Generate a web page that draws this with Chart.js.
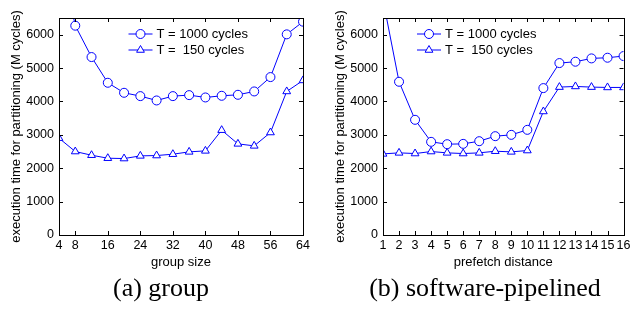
<!DOCTYPE html>
<html>
<head>
<meta charset="utf-8">
<script src="https://cdn.jsdelivr.net/npm/chart.js@4.4.1/dist/chart.umd.min.js"></script>
<style>
    body { margin: 0; background: #fff; width: 634px; height: 309px; position: relative; overflow: hidden; }
    canvas { position: absolute; top: 0; }
    .cap { position: absolute; top: 275px; width: 300px; text-align: center;
           font: 26px "Liberation Serif", serif; line-height: 1; color: #000; }
</style>
</head>
<body>
<canvas id="group-chart" width="317" height="275" style="left:0"></canvas>
<canvas id="pipe-chart" width="317" height="275" style="left:317px"></canvas>
<div class="cap" style="left:11px">(a) group</div>
<div class="cap" style="left:335px">(b) software-pipelined</div>
<script>
// (a) group size
const groupSizes = [4, 8, 12, 16, 20, 24, 28, 32, 36, 40, 44, 48, 52, 56, 60, 64];
const groupSlow = [8600, 6270, 5330, 4560, 4260, 4160, 4030, 4160, 4190, 4120, 4170, 4200, 4300, 4730, 6010, 6390];
const groupFast = [2900, 2500, 2390, 2300, 2290, 2370, 2380, 2420, 2490, 2520, 3140, 2730, 2670, 3070, 4300, 4630];
const groupTicks = [4, 8, 16, 24, 32, 40, 48, 56, 64];

// (b) prefetch distance
const prefetchDist = [1, 2, 3, 4, 5, 6, 7, 8, 9, 10, 11, 12, 13, 14, 15, 16];
const pipeSlow = [7050, 4590, 3450, 2790, 2720, 2730, 2810, 2960, 3000, 3150, 4400, 5150, 5190, 5290, 5310, 5360];
const pipeFast = [2430, 2460, 2440, 2500, 2460, 2440, 2460, 2510, 2490, 2530, 3700, 4430, 4450, 4430, 4420, 4420];
const pipeTicks = prefetchDist;

const yTicks = [0, 1000, 2000, 3000, 4000, 5000, 6000];
const seriesNames = ['T = 1000 cycles', 'T =  150 cycles'];
const blue = '#0000ff';

Chart.defaults.font.family = '"Liberation Sans", Arial, sans-serif';
Chart.defaults.color = '#000';

// box round the plot with matlab-style inward ticks
const framePlugin = {
    id: 'frame',
    afterDatasetsDraw(chart) {
        const { ctx, chartArea: a, scales } = chart;
        const len = 4;
        ctx.save();
        ctx.strokeStyle = '#000';
        ctx.lineWidth = 1;
        ctx.beginPath();
        for (const t of scales.x.ticks) {
            const px = Math.round(scales.x.getPixelForValue(t.value)) + 0.5;
            ctx.moveTo(px, a.bottom); ctx.lineTo(px, a.bottom - len);
            ctx.moveTo(px, a.top); ctx.lineTo(px, a.top + len);
        }
        for (const t of scales.y.ticks) {
            const py = Math.round(scales.y.getPixelForValue(t.value)) + 0.5;
            ctx.moveTo(a.left, py); ctx.lineTo(a.left + len, py);
            ctx.moveTo(a.right, py); ctx.lineTo(a.right - len, py);
        }
        ctx.stroke();
        ctx.strokeRect(Math.round(a.left) + 0.5, Math.round(a.top) + 0.5,
            Math.round(a.right - a.left), Math.round(a.bottom - a.top));
        ctx.restore();
    }
};

// legend inside the plot: line sample + marker + text
const keyPlugin = {
    id: 'lineKey',
    afterDraw(chart, args, opts) {
        const { ctx, chartArea: a } = chart;
        ctx.save();
        chart.data.datasets.forEach((ds, i) => {
            const x0 = a.left + opts.x;
            const y = a.top + opts.y + i * 16;
            ctx.strokeStyle = blue;
            ctx.lineWidth = 1;
            ctx.beginPath();
            ctx.moveTo(x0, y + 0.5);
            ctx.lineTo(x0 + 24, y + 0.5);
            ctx.stroke();
            ctx.fillStyle = '#fff';
            Chart.helpers.drawPoint(ctx, {
                pointStyle: ds.pointStyle, radius: 4.5, borderWidth: 1, rotation: 0
            }, x0 + 12, y + 0.5);
            ctx.fillStyle = '#000';
            ctx.font = '13px "Liberation Sans", Arial, sans-serif';
            ctx.textBaseline = 'middle';
            ctx.fillText(ds.label, x0 + 28, y + 1);
        });
        ctx.restore();
    }
};

function series(xs, ys, label, style) {
    return {
        label: label,
        data: xs.map((x, i) => ({ x: x, y: ys[i] })),
        borderColor: blue,
        borderWidth: 1,
        pointStyle: style,
        pointRadius: 4.5,
        pointBorderWidth: 1,
        pointBorderColor: blue,
        pointBackgroundColor: '#fff',
        tension: 0
    };
}

function makeChart(id, xs, slow, fast, xTicks, xTitle, cfg) {
    return new Chart(document.getElementById(id), {
        type: 'line',
        data: {
            datasets: [
                series(xs, slow, seriesNames[0], 'circle'),
                series(xs, fast, seriesNames[1], 'triangle')
            ]
        },
        options: {
            responsive: false,
            animation: false,
            layout: { padding: { left: 0, right: cfg.right, top: 18, bottom: 0 } },
            plugins: {
                legend: { display: false },
                tooltip: { enabled: false },
                lineKey: { x: cfg.keyX, y: 15.5 }
            },
            scales: {
                x: {
                    type: 'linear',
                    min: xs[0],
                    max: xs[xs.length - 1],
                    afterBuildTicks: (s) => { s.ticks = xTicks.map(v => ({ value: v })); },
                    afterFit: (s) => { s.height = 40; },
                    grid: { display: false, drawTicks: false },
                    border: { display: false },
                    ticks: { autoSkip: false, maxRotation: 0, padding: 3.5, font: { size: 12.5 },
                             callback: (v) => String(v) },
                    title: { display: true, text: xTitle, font: { size: 13 }, padding: { top: 0, bottom: 4.5 } }
                },
                y: {
                    min: 0,
                    max: 6500,
                    afterBuildTicks: (s) => { s.ticks = yTicks.map(v => ({ value: v })); },
                    afterFit: (s) => { s.width = cfg.left; },
                    grid: { display: false, drawTicks: false },
                    border: { display: false },
                    ticks: { padding: 5, font: { size: 12.5 }, callback: (v) => String(v) },
                    title: {
                        display: true,
                        text: 'execution time for partitioning (M cycles)',
                        font: { size: 13 },
                        padding: { top: cfg.titlePad, bottom: 0 }
                    }
                }
            }
        },
        plugins: [framePlugin, keyPlugin]
    });
}

makeChart('group-chart', groupSizes, groupSlow, groupFast, groupTicks, 'group size',
    { left: 59, right: 14, keyX: 69.5, titlePad: 9 });
makeChart('pipe-chart', prefetchDist, pipeSlow, pipeFast, pipeTicks, 'prefetch distance',
    { left: 66, right: 7, keyX: 34, titlePad: 16 });
</script>
</body>
</html>
